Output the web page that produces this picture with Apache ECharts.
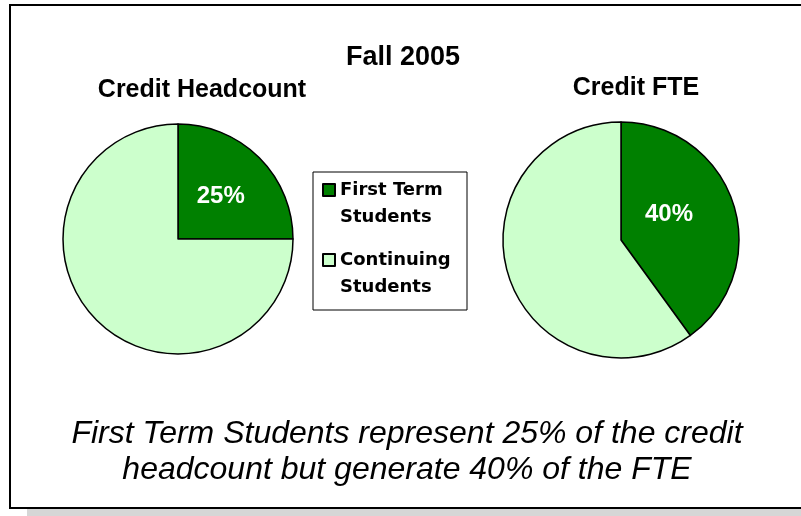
<!DOCTYPE html>
<html>
<head>
<meta charset="utf-8">
<script src="https://cdn.jsdelivr.net/npm/echarts@6/dist/echarts.min.js"></script>
<style>
html,body{margin:0;padding:0;background:#fff;}
#chart{width:801px;height:516px;}
</style>
</head>
<body>
<div id="chart"></div>
<script>
const categories = ['First Term Students', 'Continuing Students'];
const headcountValues = [25, 75];
const fteValues = [40, 60];
const colors = ['#008000', '#CCFFCC'];
const mainTitle = 'Fall 2005';
const pieTitles = ['Credit Headcount', 'Credit FTE'];
const footnote = 'First Term Students represent 25% of the credit\nheadcount but generate 40% of the FTE';

const chart = echarts.init(document.getElementById('chart'), null, {renderer: 'canvas'});

function makeData(values) {
  return categories.map((name, i) => ({
    name: name,
    value: values[i],
    label: {show: i === 0}
  }));
}

const FONT = 'Liberation Sans, Arial, sans-serif';
const LEG_LH = 27;

const pieBase = {
  type: 'pie',
  startAngle: 90,
  clockwise: true,
  animation: false,
  silent: true,
  avoidLabelOverlap: false,
  label: {
    show: true,
    position: 'inside',
    formatter: '{c}%',
    color: '#ffffff',
    fontFamily: FONT,
    fontWeight: 'bold',
    fontSize: 24
  },
  labelLine: {show: false},
  itemStyle: {borderColor: '#000', borderWidth: 1.5},
  emphasis: {disabled: true}
};

const option = {
  color: colors,
  animation: false,
  title: [
    {text: mainTitle, left: 403, top: 44, textAlign: 'center', padding: 0,
     textStyle: {fontFamily: FONT, fontWeight: 'bold', fontSize: 27, color: '#000'}},
    {text: pieTitles[0], left: 202, top: 78, textAlign: 'center', padding: 0,
     textStyle: {fontFamily: FONT, fontWeight: 'bold', fontSize: 25, color: '#000'}},
    {text: pieTitles[1], left: 636, top: 76, textAlign: 'center', padding: 0,
     textStyle: {fontFamily: FONT, fontWeight: 'bold', fontSize: 25, color: '#000'}},
    {text: footnote, left: 407, top: 416, textAlign: 'center', padding: 0,
     textStyle: {fontFamily: FONT, fontWeight: 'normal', fontStyle: 'italic', fontSize: 32, lineHeight: 36, color: '#000'}}
  ],
  legend: {
    orient: 'vertical',
    left: 322,
    top: 190 - 1.5 * LEG_LH,
    data: categories,
    padding: 0,
    itemGap: 70 - 3 * LEG_LH,
    itemWidth: 12,
    itemHeight: 12,
    icon: 'rect',
    borderWidth: 0,
    selectedMode: false,
    formatter: function (name) { return '\n' + name.replace(' Students', '\nStudents'); },
    textStyle: {
      fontFamily: 'DejaVu Sans, sans-serif',
      fontWeight: 'bold',
      fontSize: 18,
      lineHeight: LEG_LH,
      color: '#000'
    }
  },
  series: [
    Object.assign({}, pieBase, {name: pieTitles[0], center: [178, 239], radius: 115, data: makeData(headcountValues)}),
    Object.assign({}, pieBase, {name: pieTitles[1], center: [621, 240], radius: 118, data: makeData(fteValues),
      labelLayout: {dx: -11, dy: -6}})
  ],
  graphic: [
    {type: 'rect', z: -10, shape: {x: 27, y: 509, width: 774, height: 7}, style: {fill: '#d6d6d6'}, silent: true},
    {type: 'rect', z: -5, shape: {x: 10, y: 5, width: 795, height: 503}, style: {fill: '#fff', stroke: '#000', lineWidth: 2}, silent: true},
    {type: 'rect', z: 1, shape: {x: 313, y: 172, width: 154, height: 138}, style: {fill: 'none', stroke: '#000', lineWidth: 1}, silent: true}
  ]
};

chart.setOption(option);
</script>
</body>
</html>
